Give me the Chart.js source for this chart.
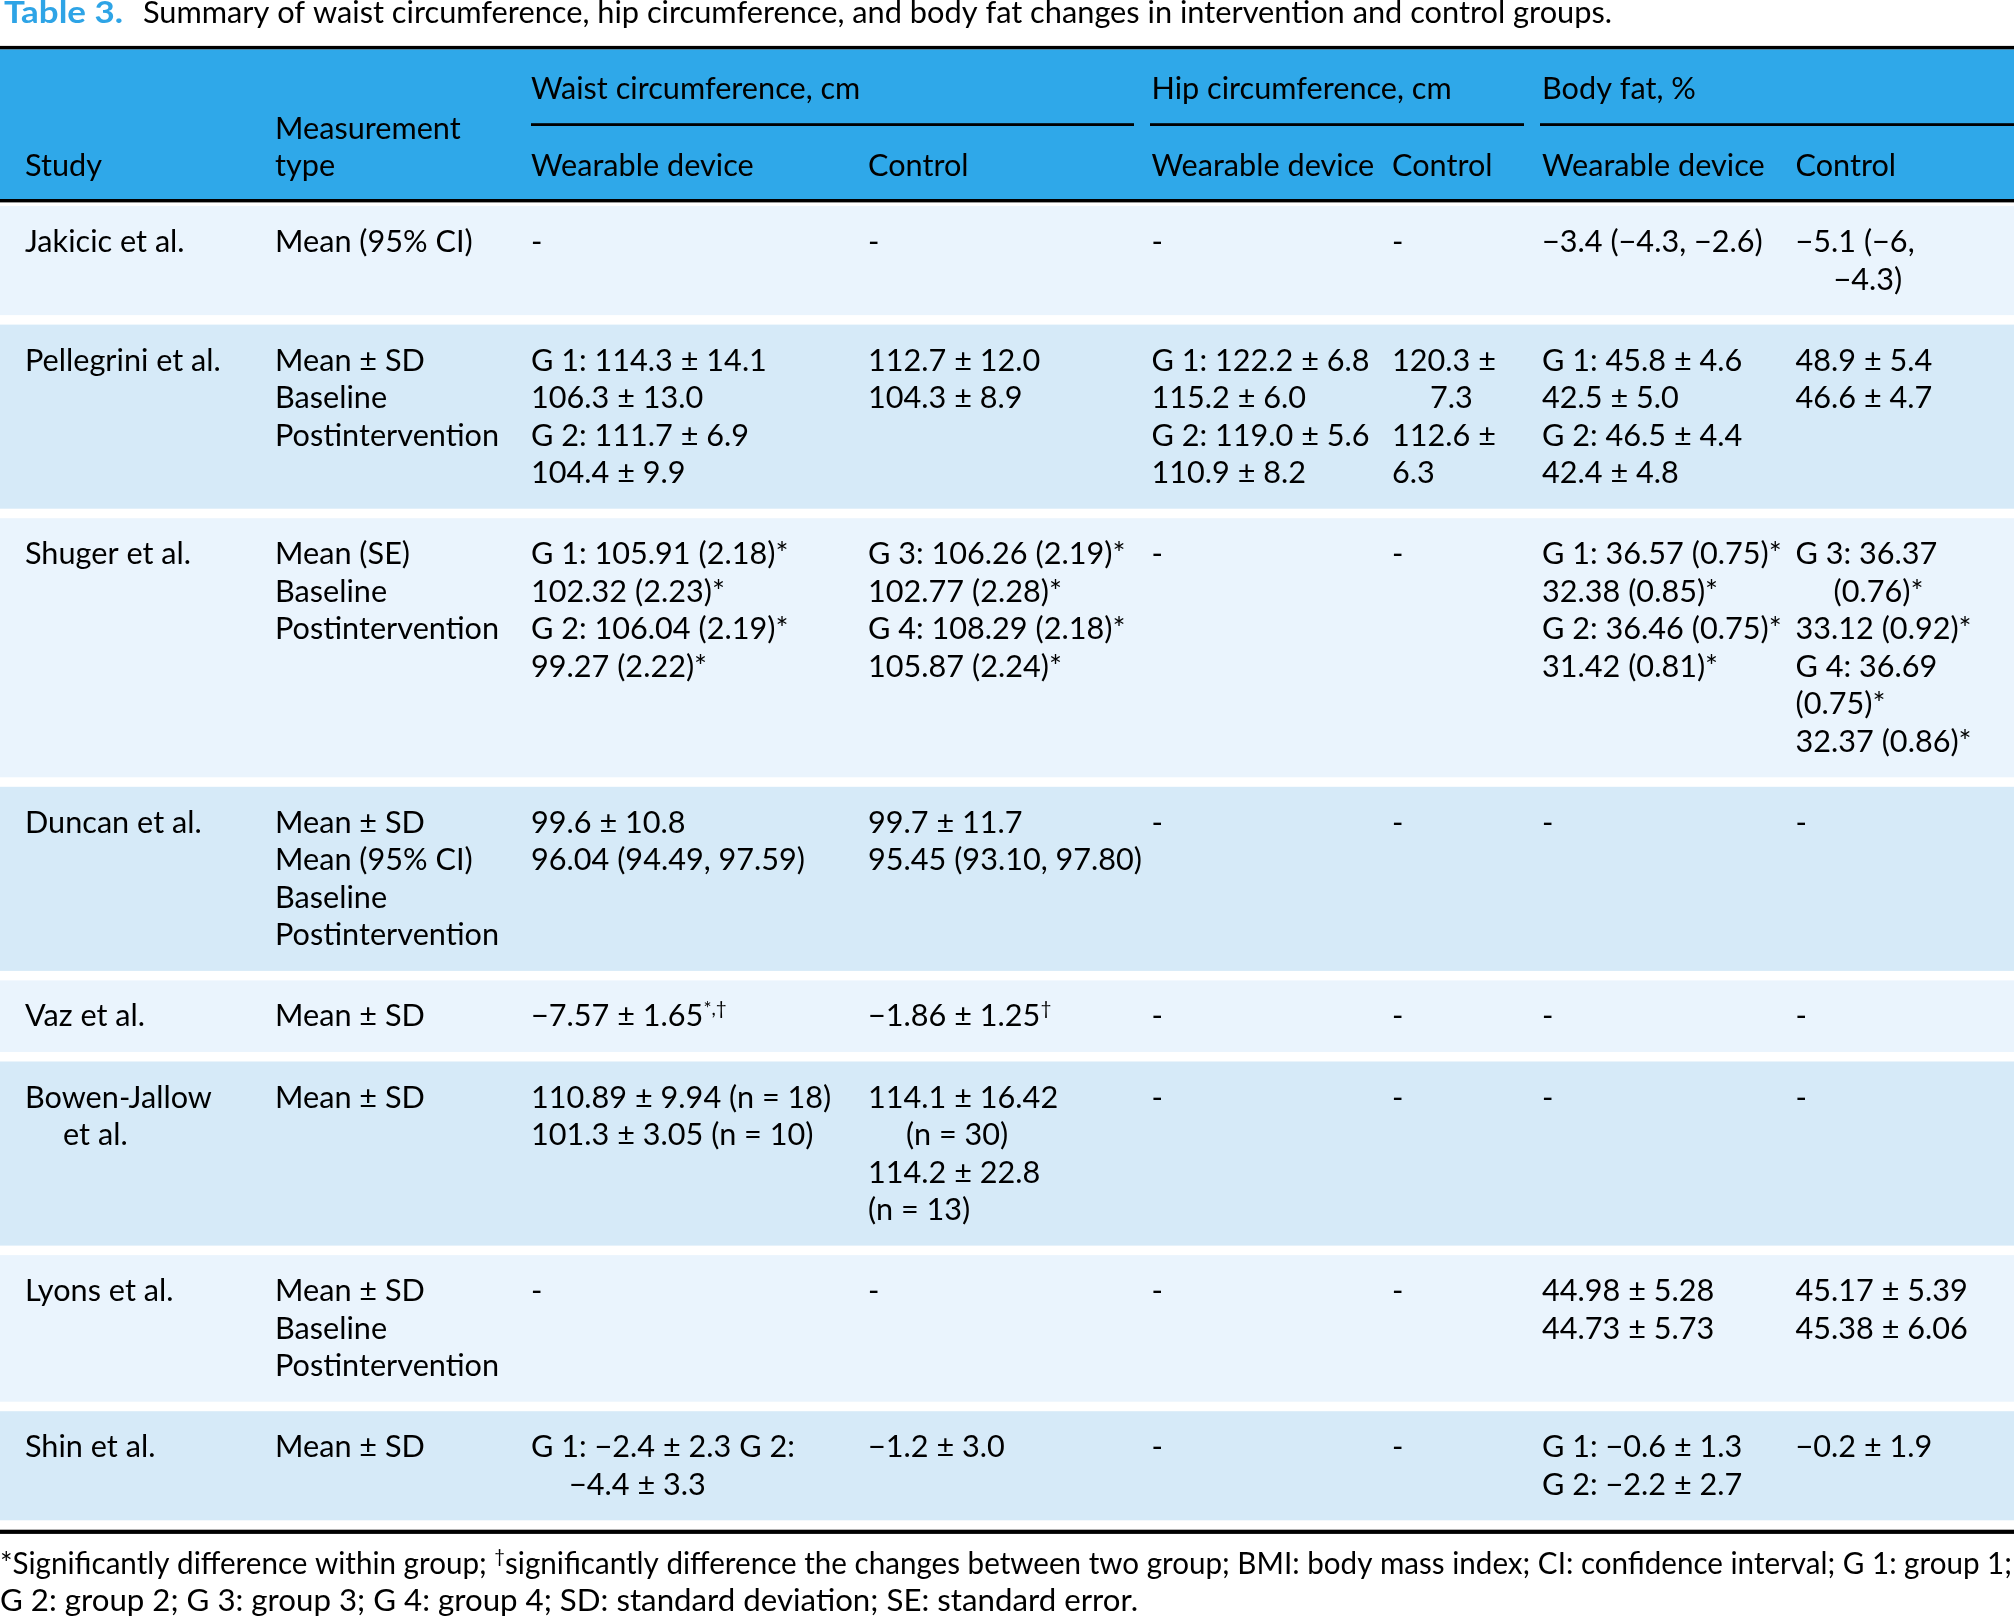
<!DOCTYPE html>
<html>
<head>
<meta charset="utf-8">
<script src="https://cdn.jsdelivr.net/npm/chart.js@4.4.1/dist/chart.umd.min.js"></script>
<style>
html,body{margin:0;padding:0;background:#ffffff;}
#wrap{width:2014px;height:1620px;position:relative;}
</style>
</head>
<body>
<div id="wrap"><canvas id="c"></canvas></div>
<script>
// ---------------- DATA ----------------
const titleLabel = "Table 3.";
const titleText = "Summary of waist circumference, hip circumference, and body fat changes in intervention and control groups.";
const studyHeader = ["Study"];
const measurementHeader = ["Measurement", "type"];
const columnGroups = ["Waist circumference, cm", "Hip circumference, cm", "Body fat, %"];
const subHeaders = ["Wearable device", "Control", "Wearable device", "Control", "Wearable device", "Control"];

// "\t" = continuation line with hanging indent; ^{..} = superscript
const studies = [
  ["Jakicic et al."],
  ["Pellegrini et al."],
  ["Shuger et al."],
  ["Duncan et al."],
  ["Vaz et al."],
  ["Bowen-Jallow", "\tet al."],
  ["Lyons et al."],
  ["Shin et al."]
];
const measurementTypes = [
  ["Mean (95% CI)"],
  ["Mean ± SD", "Baseline", "Postintervention"],
  ["Mean (SE)", "Baseline", "Postintervention"],
  ["Mean ± SD", "Mean (95% CI)", "Baseline", "Postintervention"],
  ["Mean ± SD"],
  ["Mean ± SD"],
  ["Mean ± SD", "Baseline", "Postintervention"],
  ["Mean ± SD"]
];
const waistWearable = [
  ["-"],
  ["G 1: 114.3 ± 14.1", "106.3 ± 13.0", "G 2: 111.7 ± 6.9", "104.4 ± 9.9"],
  ["G 1: 105.91 (2.18)*", "102.32 (2.23)*", "G 2: 106.04 (2.19)*", "99.27 (2.22)*"],
  ["99.6 ± 10.8", "96.04 (94.49, 97.59)"],
  ["−7.57 ± 1.65^{*,†}"],
  ["110.89 ± 9.94 (n = 18)", "101.3 ± 3.05 (n = 10)"],
  ["-"],
  ["G 1: −2.4 ± 2.3 G 2:", "\t−4.4 ± 3.3"]
];
const waistControl = [
  ["-"],
  ["112.7 ± 12.0", "104.3 ± 8.9"],
  ["G 3: 106.26 (2.19)*", "102.77 (2.28)*", "G 4: 108.29 (2.18)*", "105.87 (2.24)*"],
  ["99.7 ± 11.7", "95.45 (93.10, 97.80)"],
  ["−1.86 ± 1.25^{†}"],
  ["114.1 ± 16.42", "\t(n = 30)", "114.2 ± 22.8", "(n = 13)"],
  ["-"],
  ["−1.2 ± 3.0"]
];
const hipWearable = [
  ["-"],
  ["G 1: 122.2 ± 6.8", "115.2 ± 6.0", "G 2: 119.0 ± 5.6", "110.9 ± 8.2"],
  ["-"], ["-"], ["-"], ["-"], ["-"], ["-"]
];
const hipControl = [
  ["-"],
  ["120.3 ±", "\t7.3", "112.6 ±", "6.3"],
  ["-"], ["-"], ["-"], ["-"], ["-"], ["-"]
];
const fatWearable = [
  ["−3.4 (−4.3, −2.6)"],
  ["G 1: 45.8 ± 4.6", "42.5 ± 5.0", "G 2: 46.5 ± 4.4", "42.4 ± 4.8"],
  ["G 1: 36.57 (0.75)*", "32.38 (0.85)*", "G 2: 36.46 (0.75)*", "31.42 (0.81)*"],
  ["-"], ["-"], ["-"],
  ["44.98 ± 5.28", "44.73 ± 5.73"],
  ["G 1: −0.6 ± 1.3", "G 2: −2.2 ± 2.7"]
];
const fatControl = [
  ["−5.1 (−6,", "\t−4.3)"],
  ["48.9 ± 5.4", "46.6 ± 4.7"],
  ["G 3: 36.37", "\t(0.76)*", "33.12 (0.92)*", "G 4: 36.69", "(0.75)*", "32.37 (0.86)*"],
  ["-"], ["-"], ["-"],
  ["45.17 ± 5.39", "45.38 ± 6.06"],
  ["−0.2 ± 1.9"]
];
const footnotes = [
  "*Significantly difference within group; ^{†}significantly difference the changes between two group; BMI: body mass index; CI: confidence interval; G 1: group 1;",
  "G 2: group 2; G 3: group 3; G 4: group 4; SD: standard deviation; SE: standard error."
];

// ---------------- LAYOUT / STYLE ----------------
const PAGE_W = 2014, PAGE_H = 1620;
const FONT = "Lato, 'Open Sans', sans-serif";
const BODY_PX = 31.5, TITLE_PX = 31, FOOT_PX = 30;
const COLORS = { header: "#2fa8e9", light: "#eaf4fd", dark: "#d6eaf8", title: "#2ea4e6", text: "#000000", rule: "#000000" };
const COL_X = [25, 275, 531, 868, 1151.5, 1392, 1542, 1795.5];
const GROUP_RULES = [[531, 1134], [1150, 1524], [1540, 2014]];
const INDENT = 38;
const L = { titleBase: 23, titleLabelX: 4, titleLabelW: 119, titleX: 143, titleW: 1469,
  topRule: 47.6, headerTop: 49.3, headerBottom: 199, h1Base: 99, subRule: 124.6,
  measBase: 138.5, h2Base: 176, headerRule: 200.7, bodyTop: 206, firstBase: 46, line: 37.5, bottomPad: 25.6,
  gap: 9.5, bottomRuleOffset: 11.5, footBase: [1574, 1610.5], footW: [2014, 1140] };

const columns = [studies, measurementTypes, waistWearable, waistControl, hipWearable, hipControl, fatWearable, fatControl];
const rowLines = studies.map((_, r) => Math.max(...columns.map(c => c[r].length)));
const rowTop = [], rowBottom = [];
{ let y = L.bodyTop; rowLines.forEach((n, r) => { rowTop.push(y); const b = y + L.firstBase + (n - 1) * L.line + L.bottomPad; rowBottom.push(b); y = b + L.gap; }); }

const cellDatasets = columns.map((col, ci) => {
  const pts = [];
  col.forEach((lines, r) => lines.forEach((s, k) => {
    const ind = s.startsWith("\t");
    pts.push({ x: COL_X[ci] + (ind ? INDENT : 0), y: rowTop[r] + L.firstBase + k * L.line, t: ind ? s.slice(1) : s });
  }));
  return { label: "col" + ci, data: pts, pointRadius: 0, pointHoverRadius: 0 };
});

// ---------------- TEXT HELPERS ----------------
function font(px, bold) { return (bold ? "bold " : "") + px.toFixed(2) + "px " + FONT; }
function parseRich(s) {
  const out = []; const re = /\^\{([^}]*)\}/g; let last = 0, m;
  while ((m = re.exec(s))) { if (m.index > last) out.push({ t: s.slice(last, m.index), sup: false }); out.push({ t: m[1], sup: true }); last = re.lastIndex; }
  if (last < s.length) out.push({ t: s.slice(last), sup: false });
  return out;
}
function richWidth(ctx, s, px, bold) { let w = 0; for (const g of parseRich(s)) { ctx.font = font(g.sup ? px * 0.62 : px, bold); w += ctx.measureText(g.t).width; } return w; }
function drawRich(ctx, s, x, y, px, sx, color, bold) {
  ctx.save(); ctx.translate(x, y); ctx.scale(sx, 1); ctx.fillStyle = color; ctx.textBaseline = "alphabetic"; ctx.textAlign = "left";
  let cx = 0;
  for (const g of parseRich(s)) {
    const p = g.sup ? px * 0.62 : px; ctx.font = font(p, bold);
    ctx.fillText(g.t, cx, g.sup ? -px * 0.36 : 0);
    cx += ctx.measureText(g.t).width;
  }
  ctx.restore();
}
// draw a string fitted to a given pixel width (horizontal scale only)
function drawFit(ctx, s, x, y, px, width, color, bold) {
  const w = richWidth(ctx, s, px, bold);
  drawRich(ctx, s, x, y, px, width / w, color, bold);
}

const tablePlugin = {
  id: "tablePlugin",
  beforeDatasetsDraw(chart) {
    const { ctx, scales: { x, y } } = chart;
    const X = v => x.getPixelForValue(v), Y = v => y.getPixelForValue(v);
    ctx.save();
    ctx.fillStyle = COLORS.header;
    ctx.fillRect(X(0), Y(L.headerTop), X(PAGE_W) - X(0), Y(L.headerBottom) - Y(L.headerTop));
    rowTop.forEach((t, r) => {
      ctx.fillStyle = r % 2 === 0 ? COLORS.light : COLORS.dark;
      ctx.fillRect(X(0), Y(t), X(PAGE_W) - X(0), Y(rowBottom[r]) - Y(t));
    });
    ctx.fillStyle = COLORS.rule;
    const hr = (x0, x1, yc, th) => ctx.fillRect(X(x0), Y(yc) - th / 2, X(x1) - X(x0), th);
    hr(0, PAGE_W, L.topRule, 3.4);
    GROUP_RULES.forEach(([a, b]) => hr(a, b, L.subRule, 2.8));
    hr(0, PAGE_W, L.headerRule, 3.4);
    hr(0, PAGE_W, rowBottom[rowBottom.length - 1] + L.bottomRuleOffset, 4.2);
    ctx.restore();
  },
  afterDatasetsDraw(chart) {
    const { ctx, scales: { x, y } } = chart;
    const X = v => x.getPixelForValue(v), Y = v => y.getPixelForValue(v);
    // calibrate horizontal compression to the reference's typeface widths
    ctx.font = font(BODY_PX);
    const sxBody = (222 + 224.8) / (ctx.measureText("Postintervention").width + ctx.measureText("Wearable device").width);
    // title
    drawFit(ctx, titleLabel, X(L.titleLabelX), Y(L.titleBase), TITLE_PX, X(L.titleLabelX + L.titleLabelW) - X(L.titleLabelX), COLORS.title, true);
    drawFit(ctx, titleText, X(L.titleX), Y(L.titleBase), TITLE_PX, X(L.titleX + L.titleW) - X(L.titleX), COLORS.text);
    // header
    drawRich(ctx, studyHeader[0], X(COL_X[0]), Y(L.h2Base), BODY_PX, sxBody, COLORS.text);
    drawRich(ctx, measurementHeader[0], X(COL_X[1]), Y(L.measBase), BODY_PX, sxBody, COLORS.text);
    drawRich(ctx, measurementHeader[1], X(COL_X[1]), Y(L.h2Base), BODY_PX, sxBody, COLORS.text);
    columnGroups.forEach((g, i) => drawRich(ctx, g, X(COL_X[2 + i * 2]), Y(L.h1Base), BODY_PX, sxBody, COLORS.text));
    subHeaders.forEach((s, i) => drawRich(ctx, s, X(COL_X[2 + i]), Y(L.h2Base), BODY_PX, sxBody, COLORS.text));
    // cells, positioned by the library's scales
    chart.data.datasets.forEach((ds, di) => {
      const meta = chart.getDatasetMeta(di);
      meta.data.forEach((el, i) => drawRich(ctx, ds.data[i].t, el.x, el.y, BODY_PX, sxBody, COLORS.text));
    });
    // footnotes
    footnotes.forEach((f, i) => drawFit(ctx, f, X(0), Y(L.footBase[i]), FOOT_PX, X(L.footW[i]) - X(0) - 2, COLORS.text));
  }
};

function build() {
  new Chart(document.getElementById("c"), {
    type: "scatter",
    data: { datasets: cellDatasets },
    options: {
      responsive: true, maintainAspectRatio: false, animation: false, events: [],
      layout: { padding: 0 },
      scales: {
        x: { type: "linear", min: 0, max: PAGE_W, display: false },
        y: { type: "linear", min: 0, max: PAGE_H, reverse: true, display: false }
      },
      plugins: { legend: { display: false }, tooltip: { enabled: false }, title: { display: false } }
    },
    plugins: [tablePlugin]
  });
}
if (document.fonts && document.fonts.load) {
  Promise.all([document.fonts.load(font(BODY_PX)), document.fonts.load(font(TITLE_PX, true))]).then(build, build);
} else build();
</script>
</body>
</html>
